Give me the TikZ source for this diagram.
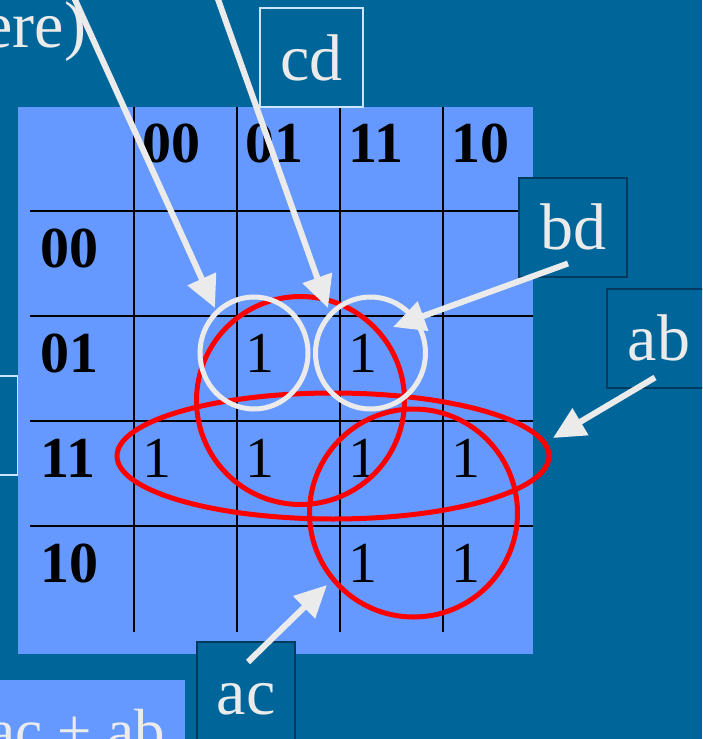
\documentclass[tikz,border=0pt]{standalone}
\usepackage{fontspec}
\setmainfont{Liberation Serif}
\usepackage{xcolor}
\usepackage{tikz}
\usetikzlibrary{positioning,arrows.meta}

\definecolor{slideblue}{HTML}{006699}
\definecolor{panelblue}{HTML}{6699FF}
\definecolor{chalk}{HTML}{EBEBEB}
\definecolor{lightedge}{HTML}{C8E6F8}
\definecolor{darkedge}{HTML}{003A5C}

\begin{document}
\begin{tikzpicture}[
  x=1pt, y=-1pt,
  tag/.style={draw=darkedge, line width=2pt, fill=slideblue, text=chalk, minimum width=104pt, minimum height=99pt, inner sep=0pt, text height=45pt, text depth=0pt, font=\fontsize{66}{70}\selectfont},
  taglight/.style={tag, draw=lightedge},
  cell/.style={anchor=base west, inner sep=0pt, font=\fontsize{58}{60}\selectfont},
  hdr/.style={cell, font=\fontsize{58}{60}\selectfont\bfseries},
  grp/.style={draw=red, line width=5pt},
  pick/.style={draw=chalk, line width=5pt},
  arrow/.style={-{Triangle[length=32pt,width=30pt]}, line width=6pt, draw=chalk, fill=chalk}
]
\useasboundingbox (0,0) rectangle (702,739);
\clip (0,0) rectangle (702,739);
\fill[slideblue] (0,0) rectangle (702,739);

\node[tag, text=chalk, anchor=base east, draw=none, fill=none, minimum width=0pt, minimum height=0pt, text height=, text depth=] (note) at (87,47) {ere)};
\node[taglight, minimum width=102pt] (lbox) at (-33,425.5) {};

% the map
\fill[panelblue] (18,107) rectangle (533,654);
\foreach \x in {134,237,340,443}
  \draw[line width=2pt] (\x,107) -- (\x,632);
\foreach \y in {211,316,421,526}
  \draw[line width=2pt] (30,\y) -- (533,\y);

\foreach \c/\lab in {0/00,1/01,2/11,3/10} {
  \node[hdr] (col\c) at (142+103*\c,162) {\lab};
  \node[hdr] (row\c) at (40,267+105*\c) {\lab};
}
\foreach \c/\r in {1/1,2/1,0/2,1/2,2/2,3/2,2/3,3/3}
  \node[cell] (one\c\r) at (142+103*\c,267+105*\r) {1};

\draw[grp] (300.5,400.5) circle [radius=104];
\draw[grp] (333,456) ellipse [x radius=216, y radius=63];
\draw[grp] (413.5,513) circle [radius=104];
\draw[pick] (254,353) ellipse [x radius=54, y radius=56];
\draw[pick] (370.5,353) ellipse [x radius=55, y radius=56];

\node[taglight, minimum width=103pt] (cd) at (311.5,57.5) {cd};
\node[tag, minimum width=108pt] (bd) at (573,227) {bd};
\node[tag] (ab) at (659,338) {ab};
\node[tag, minimum width=98pt] (ac) at (246,691.5) {ac};

\node[fill=panelblue, text=chalk, anchor=north west, inner xsep=20pt, inner ysep=29pt, text height=42pt, text depth=0pt, font=\fontsize{61}{64}\selectfont] (sum) at (-32,680) {ac + ab};

\coordinate (from1) at (57,-40);
\coordinate (from2) at (204,-40);
\coordinate (tip1) at (215,308);
\coordinate (tip2) at (328,308);
\coordinate (tipbd) at (393,327);
\coordinate (tipab) at (553,438);
\coordinate (tipac) at (327,585);

\draw[arrow] (from1) -- (tip1);
\draw[arrow] (from2) -- (tip2);
\draw[arrow] ([shift={(-5,-14)}]bd.south) -- (tipbd);
\draw[arrow] ([shift={(-4,-11)}]ab.south) -- (tipab);
\draw[arrow] ([shift={(2,21)}]ac.north) -- (tipac);
\end{tikzpicture}
\end{document}
